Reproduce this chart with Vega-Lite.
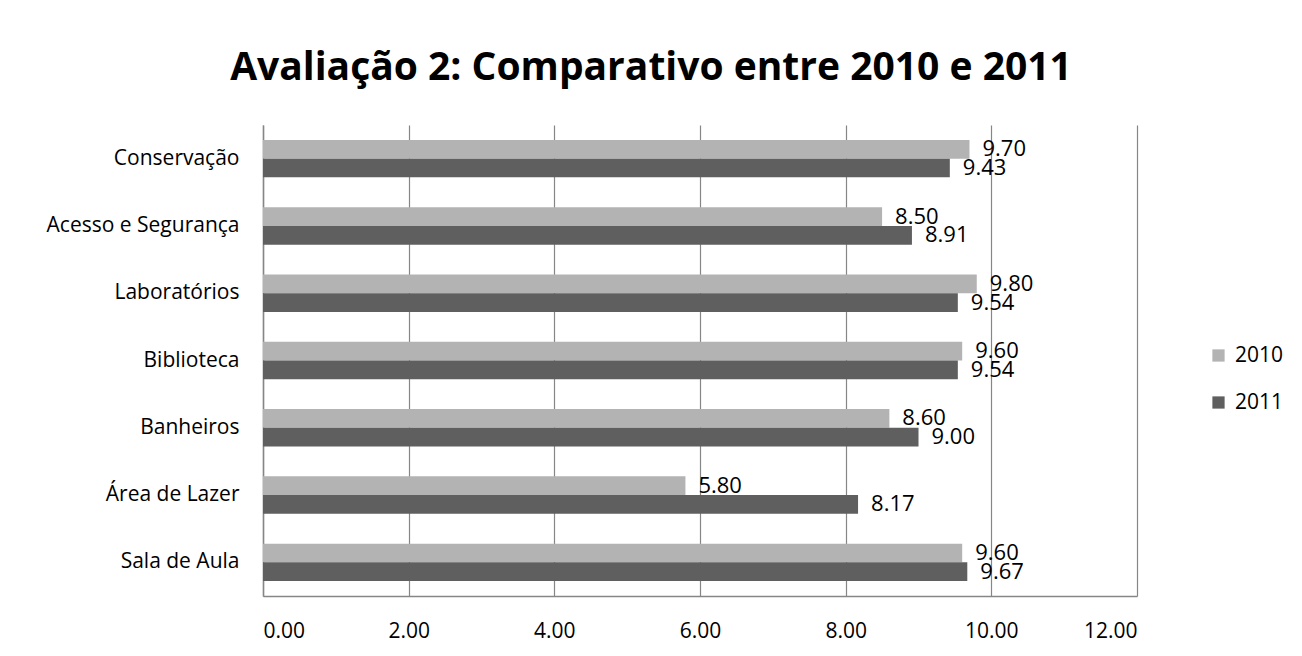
{
  "$schema": "https://vega.github.io/schema/vega-lite/v6.json",
  "width": 874,
  "height": 471,
  "autosize": {"type": "none"},
  "padding": {"left": 263, "top": 125, "right": 165, "bottom": 60},
  "background": "white",
  "title": {
    "text": "Avaliação 2: Comparativo entre 2010 e 2011",
    "font": "Open Sans",
    "fontSize": 39,
    "fontWeight": "bold",
    "color": "#000000",
    "anchor": "middle",
    "dx": -49,
    "offset": 37
  },
  "data": {
    "values": [
      {"categoria": "Conservação", "ano": "2010", "nota": 9.70},
      {"categoria": "Conservação", "ano": "2011", "nota": 9.43},
      {"categoria": "Acesso e Segurança", "ano": "2010", "nota": 8.50},
      {"categoria": "Acesso e Segurança", "ano": "2011", "nota": 8.91},
      {"categoria": "Laboratórios", "ano": "2010", "nota": 9.80},
      {"categoria": "Laboratórios", "ano": "2011", "nota": 9.54},
      {"categoria": "Biblioteca", "ano": "2010", "nota": 9.60},
      {"categoria": "Biblioteca", "ano": "2011", "nota": 9.54},
      {"categoria": "Banheiros", "ano": "2010", "nota": 8.60},
      {"categoria": "Banheiros", "ano": "2011", "nota": 9.00},
      {"categoria": "Área de Lazer", "ano": "2010", "nota": 5.80},
      {"categoria": "Área de Lazer", "ano": "2011", "nota": 8.17},
      {"categoria": "Sala de Aula", "ano": "2010", "nota": 9.60},
      {"categoria": "Sala de Aula", "ano": "2011", "nota": 9.67}
    ]
  },
  "encoding": {
    "y": {
      "field": "categoria",
      "type": "nominal",
      "sort": ["Conservação", "Acesso e Segurança", "Laboratórios", "Biblioteca", "Banheiros", "Área de Lazer", "Sala de Aula"],
      "scale": {"paddingInner": 0.444, "paddingOuter": 0.222},
      "axis": {
        "title": null,
        "ticks": false,
        "domain": true,
        "domainColor": "#868686",
        "domainWidth": 1.5,
        "labelFont": "Open Sans",
        "labelFontSize": 21,
        "labelColor": "#000000",
        "labelPadding": 24,
        "labelLimit": 400
      }
    },
    "yOffset": {"field": "ano", "type": "nominal", "sort": ["2010", "2011"]},
    "x": {
      "field": "nota",
      "type": "quantitative",
      "scale": {"domain": [0, 12], "nice": false},
      "axis": {
        "title": null,
        "values": [0, 2, 4, 6, 8, 10, 12],
        "format": ".2f",
        "ticks": false,
        "domain": true,
        "domainColor": "#868686",
        "domainWidth": 1.5,
        "grid": true,
        "gridColor": "#868686",
        "gridWidth": 1.2,
        "labelFont": "Open Sans",
        "labelFontSize": 21,
        "labelColor": "#000000",
        "labelPadding": 24
      }
    }
  },
  "layer": [
    {
      "mark": {"type": "bar", "cornerRadius": 0},
      "encoding": {
        "color": {
          "field": "ano",
          "type": "nominal",
          "scale": {"domain": ["2010", "2011"], "range": ["#b3b3b3", "#5f5f5f"]},
          "legend": {
            "title": null,
            "orient": "none",
            "legendX": 945,
            "legendY": 220,
            "symbolType": "square",
            "symbolSize": 150,
            "symbolStrokeWidth": 0,
            "labelFont": "Open Sans",
            "labelFontSize": 21,
            "labelColor": "#000000",
            "rowPadding": 25,
            "labelOffset": 6
          }
        }
      }
    },
    {
      "mark": {"type": "text", "align": "left", "baseline": "middle", "dx": 13, "font": "Open Sans", "fontSize": 22, "color": "#000000"},
      "encoding": {
        "text": {"field": "nota", "type": "quantitative", "format": ".2f"}
      }
    }
  ],
  "config": {
    "view": {"stroke": null}
  }
}
